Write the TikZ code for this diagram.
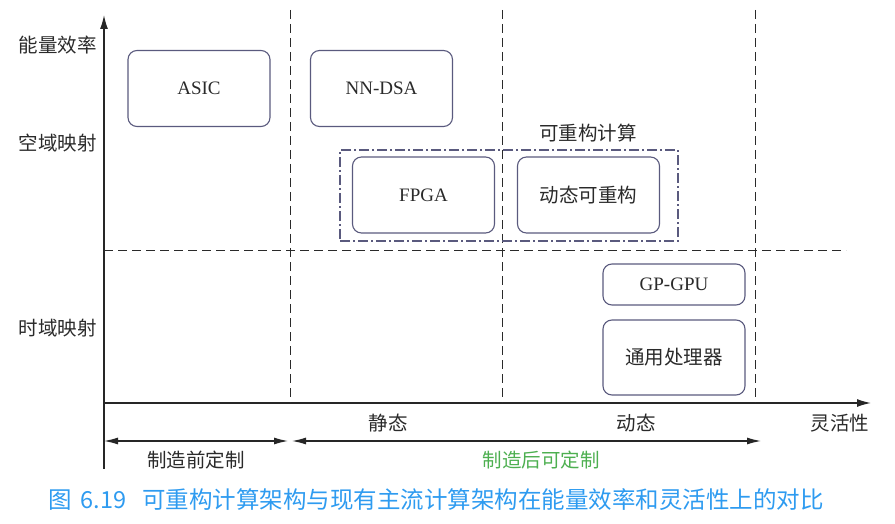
\documentclass[tikz,border=0pt]{standalone}
\usepackage{fontspec}
\setmainfont{Liberation Serif}
\newfontfamily\cjk{Noto Sans CJK SC}
\usetikzlibrary{arrows.meta}
\definecolor{archEdge}{HTML}{5A5A7E}
\definecolor{archText}{HTML}{2A2A2A}
\definecolor{archGreen}{HTML}{4DAF50}
\definecolor{archCaption}{HTML}{2E9BF0}
\tikzset{
    % boxes for the architectures
    archbox/.style={draw=archEdge, rounded corners=9pt, line width=1.1pt, minimum width=142pt, minimum height=76pt, text=archText, font=\fontsize{19}{22}\selectfont},
    zonebox/.style={draw=archEdge, line width=1.3pt, dash pattern=on 10pt off 3pt on 2pt off 3pt, minimum width=338pt, minimum height=91pt},
    label/.style={text=archText, font=\cjk\fontsize{19.5}{22}\selectfont},
    % lines
    divider/.style={line width=1pt, archText, dash pattern=on 9pt off 5pt},
    axisline/.style={-{Latex[length=14pt,width=8pt]}, line width=1.4pt, black!85},
    span/.style={{Latex[length=14pt,width=7pt]}-{Latex[length=14pt,width=7pt]}, line width=1.2pt, black!85}
}

\begin{document}
\begin{tikzpicture}[x=1pt,y=-1pt]
    \useasboundingbox (0,0) rectangle (895,524);
    % Axes
    \coordinate (origin) at (104,403);
    \coordinate (ytop) at (104,15);
    \coordinate (xend) at (871,403);
    \coordinate (ybot) at (104,469);
    \draw[line width=1.4pt, black!85] (origin) -- (ybot);
    \draw[axisline] (origin) -- (ytop);
    \draw[axisline] (origin) -- (xend);

    % Dashed dividers
    \coordinate (d1top) at (290,10);  \coordinate (d1bot) at (290,403);
    \coordinate (d2top) at (502,10);  \coordinate (d2bot) at (502,403);
    \coordinate (d3top) at (755,10);  \coordinate (d3bot) at (755,403);
    \coordinate (hleft) at (104,250); \coordinate (hright) at (846,250);
    \draw[divider] (d1top) -- (d1bot);
    \draw[divider] (d2top) -- (d2bot);
    \draw[divider] (d3top) -- (d3bot);
    \draw[divider] (hleft) -- (hright);

    % Axis labels
    \node[label] at (58,45) (eff) {能量效率};
    \node[label] at (58,143) (space) {空域映射};
    \node[label] at (58,328) (time) {时域映射};
    \node[label] at (840,423) (flex) {灵活性};
    \node[label] at (388,423) (static) {静态};
    \node[label] at (636,423) (dynamic) {动态};

    % Architectures
    \node[archbox] at (199,88.5) (asic) {ASIC};
    \node[archbox] at (381.5,88.5) (nndsa) {NN-DSA};
    \node[zonebox] at (509,195.5) (recon) {};
    \node[label] at (588,133) (reconlbl) {可重构计算};
    \node[archbox] at (423.5,195) (fpga) {FPGA};
    \node[archbox, font=\cjk\fontsize{19.5}{22}\selectfont] at (588.5,195) (dynrec) {动态可重构};
    \node[archbox, minimum height=41pt] at (674,284.5) (gpgpu) {GP-GPU};
    \node[archbox, minimum height=75pt, font=\cjk\fontsize{19.5}{22}\selectfont] at (674,357.5) (cpu) {通用处理器};

    % Customisation spans
    \coordinate (s1a) at (104,441); \coordinate (s1b) at (288,441);
    \coordinate (s2a) at (292,441); \coordinate (s2b) at (761,441);
    \draw[span] (s1a) -- (s1b);
    \draw[span] (s2a) -- (s2b);
    \node[label] at (196,460) (pre) {制造前定制};
    \node[label, text=archGreen] at (541,460) (post) {制造后可定制};

    % Caption
    \node[text=archCaption, font=\cjk\fontsize{23.5}{26}\selectfont, anchor=west, inner sep=0pt] at (48,500) (caption) {图\hspace{9pt}6.19\hspace{16pt}可重构计算架构与现有主流计算架构在能量效率和灵活性上的对比};
\end{tikzpicture}
\end{document}
